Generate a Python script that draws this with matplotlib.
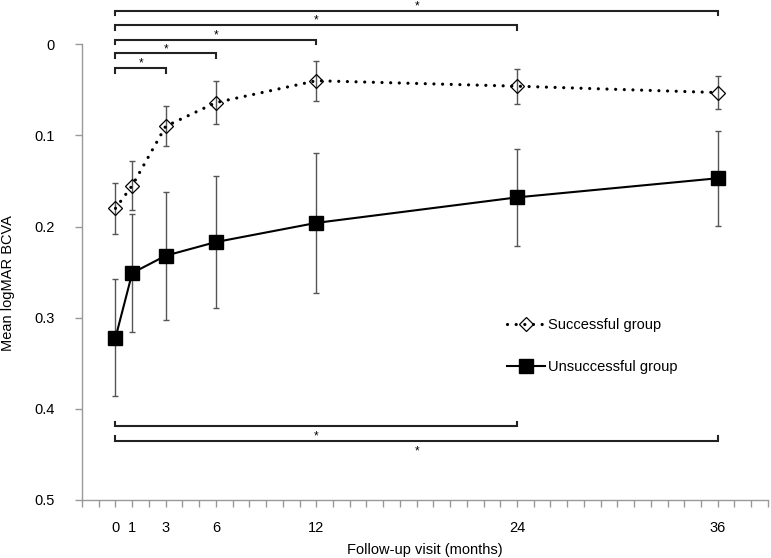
import numpy as np
import matplotlib
matplotlib.use("Agg")
import matplotlib.pyplot as plt

plt.rcParams['font.family'] = ['Liberation Sans', 'DejaVu Sans']

# follow-up months
months = [0, 1, 3, 6, 12, 24, 36]

# mean logMAR BCVA and SD
success_mean = [0.180, 0.155, 0.090, 0.064, 0.040, 0.046, 0.053]
success_err = [0.028, 0.027, 0.022, 0.024, 0.022, 0.019, 0.018]
fail_mean = [0.322, 0.251, 0.232, 0.217, 0.196, 0.168, 0.147]
fail_err = [0.064, 0.065, 0.070, 0.072, 0.077, 0.053, 0.052]

# significance brackets: (start month, end month, level)
top_brackets = [(0, 3, 0.026), (0, 6, 0.010), (0, 12, -0.005), (0, 24, -0.021), (0, 36, -0.037)]
bottom_brackets = [(0, 24, 0.419), (0, 36, 0.435)]

tick_labels = {0: '0', 1: '1', 3: '3', 6: '6', 12: '12', 24: '24', 36: '36'}

fig = plt.figure(figsize=(7.71, 5.58), dpi=100)
ax = fig.add_axes([0.1064, 0.104, 0.8896, 0.882])

err_color = '#555555'
ax.errorbar(months, success_mean, yerr=success_err, fmt='none', ecolor=err_color,
            elinewidth=1, capsize=2.3, capthick=1, zorder=2)
ax.errorbar(months, fail_mean, yerr=fail_err, fmt='none', ecolor=err_color,
            elinewidth=1, capsize=2.3, capthick=1, zorder=2)

ax.plot(months, success_mean, linestyle=(0, (0.01, 2.7)), dash_capstyle='round',
        linewidth=2.3, color='black', marker='D', markersize=7.5,
        markerfacecolor='none', markeredgecolor='black', markeredgewidth=0.9,
        label='Successful group', zorder=3)
ax.plot(months, fail_mean, linestyle='-', linewidth=1.5, color='black',
        marker='s', markersize=9.5, markerfacecolor='black', markeredgecolor='black',
        label='Unsuccessful group', zorder=3)

# significance brackets
tick_h = 0.005
for x0, x1, lvl in top_brackets:
    ax.plot([x0, x0, x1, x1], [lvl + tick_h, lvl, lvl, lvl + tick_h], color='#222222',
            linewidth=1.5, clip_on=False, solid_joinstyle='miter', zorder=4)
    ax.text((x0 + x1) / 2, lvl - 0.0015, '*', ha='center', va='baseline', fontsize=8.5,
            clip_on=False)
for x0, x1, lvl in bottom_brackets:
    ax.plot([x0, x0, x1, x1], [lvl - tick_h, lvl, lvl, lvl - tick_h], color='#222222',
            linewidth=1.5, clip_on=False, solid_joinstyle='miter', zorder=4)
    ax.text((x0 + x1) / 2, lvl + 0.0145, '*', ha='center', va='baseline', fontsize=8.5,
            clip_on=False)

ax.set_xlim(-2, 39)
ax.set_ylim(0.5, -0.04)

xt = list(range(-2, 40))
ax.set_xticks(xt)
ax.set_xticklabels([tick_labels.get(t, '') for t in xt], fontsize=10.5)
ax.set_yticks([0, 0.1, 0.2, 0.3, 0.4, 0.5])
ax.set_yticklabels(['0', '0.1', '0.2', '0.3', '0.4', '0.5'], fontsize=10.5)

spine_color = '#999999'
for s in ['top', 'right']:
    ax.spines[s].set_visible(False)
for s in ['left', 'bottom']:
    ax.spines[s].set_color(spine_color)
    ax.spines[s].set_linewidth(1.0)
ax.spines['left'].set_bounds(0, 0.5)
ax.tick_params(axis='y', direction='out', length=5, width=1, color=spine_color, pad=15)
ax.tick_params(axis='x', direction='out', length=5, width=1, color=spine_color, pad=10)

ax.set_xlabel('Follow-up visit (months)', fontsize=10.5, labelpad=6)
ax.set_ylabel('Mean logMAR BCVA', fontsize=10.5)
ax.yaxis.set_label_coords(-0.098, 0.441)

ax.legend(loc='center left', bbox_to_anchor=(0.6195, 0.313), frameon=False, fontsize=10.5,
          handlelength=2.6, handletextpad=0.2, labelspacing=1.95, borderpad=0,
          borderaxespad=0)

fig.savefig('out.png', dpi=100)
